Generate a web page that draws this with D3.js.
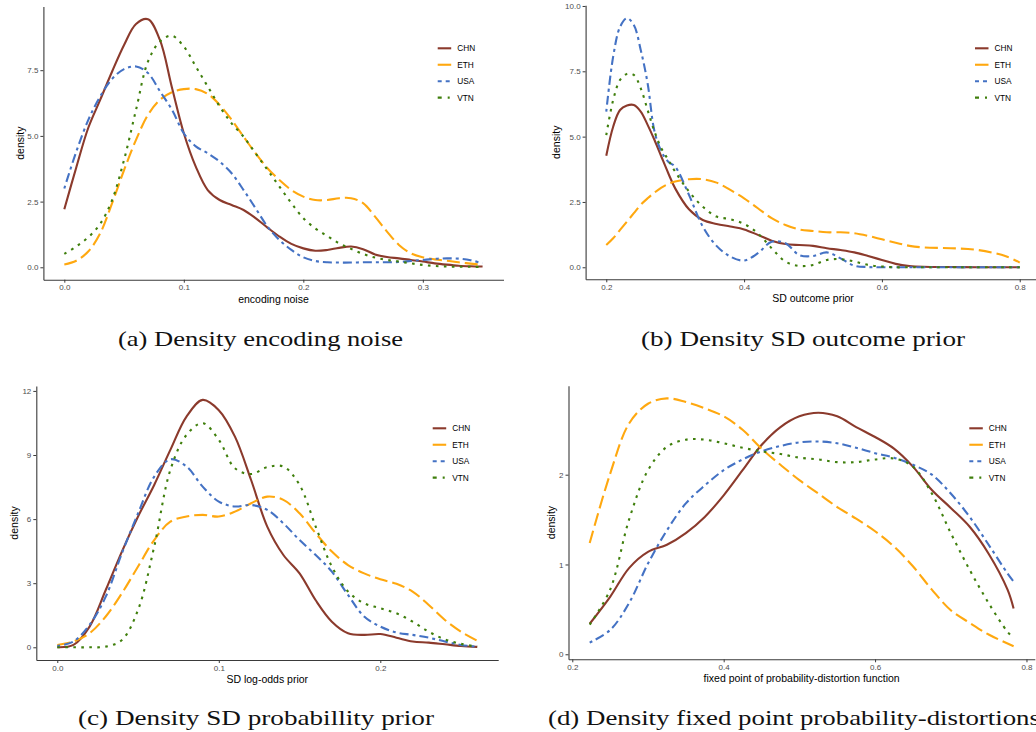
<!DOCTYPE html>
<html>
<head>
<meta charset="utf-8">
<script src="https://cdn.jsdelivr.net/npm/d3@7"></script>
<style>
  html, body { margin: 0; padding: 0; background: #fff; }
  svg { display: block; }
</style>
</head>
<body>
<svg id="chart" width="1036" height="732"></svg>
<script>
// ---------------- DATA ----------------
const countries = ["CHN", "ETH", "USA", "VTN"];

// (a) encoding noise
const xA = [0,0.01,0.02,0.03,0.04,0.05,0.06,0.07,0.08,0.09,0.10,0.11,0.12,0.13,0.14,0.15,0.16,0.17,0.18,0.19,0.20,0.21,0.22,0.23,0.24,0.25,0.26,0.27,0.28,0.29,0.30,0.31,0.32,0.33,0.34,0.35];
const chnA = [2.21,3.8,5.3,6.37,7.45,8.46,9.26,9.44,8.65,6.85,5.1,3.83,2.94,2.56,2.37,2.18,1.87,1.51,1.17,0.89,0.72,0.63,0.66,0.74,0.79,0.69,0.49,0.39,0.34,0.28,0.22,0.15,0.10,0.06,0.04,0.03];
const ethA = [0.11,0.25,0.6,1.29,2.44,3.7,4.85,5.8,6.37,6.66,6.78,6.78,6.6,6.18,5.61,4.97,4.34,3.77,3.32,2.94,2.69,2.56,2.56,2.63,2.63,2.44,1.93,1.36,0.85,0.53,0.38,0.30,0.25,0.19,0.14,0.09];
const usaA = [3.0,4.4,5.6,6.5,7.17,7.54,7.64,7.39,6.7,6.0,5.1,4.6,4.34,4.02,3.58,2.94,2.25,1.55,1.04,0.66,0.38,0.24,0.19,0.18,0.18,0.19,0.19,0.19,0.20,0.24,0.28,0.32,0.34,0.33,0.27,0.15];
const vtnA = [0.51,0.79,1.14,1.65,2.56,4.09,5.99,7.83,8.59,8.81,8.4,7.64,6.88,6.12,5.48,4.97,4.34,3.71,3.07,2.44,1.87,1.48,1.19,0.91,0.70,0.51,0.37,0.28,0.22,0.15,0.09,0.05,0.03,0.02,0.02,0.01];

// (b) SD outcome prior
const xB = [0.20,0.21,0.22,0.23,0.24,0.25,0.26,0.27,0.28,0.29,0.30,0.32,0.34,0.36,0.38,0.40,0.42,0.44,0.46,0.48,0.50,0.52,0.54,0.56,0.58,0.60,0.62,0.64,0.66,0.70,0.74,0.78,0.80];
const chnB = [4.27,5.38,6.02,6.19,6.21,5.96,5.45,4.87,4.23,3.6,3.02,2.22,1.81,1.66,1.56,1.45,1.24,1.02,0.89,0.85,0.82,0.73,0.66,0.57,0.43,0.28,0.13,0.05,0.02,0.01,0,0,0];
const ethB = [0.85,1.11,1.43,1.75,2.07,2.39,2.64,2.86,3.05,3.19,3.28,3.37,3.37,3.24,2.96,2.64,2.26,1.88,1.62,1.45,1.39,1.34,1.34,1.3,1.2,1.07,0.94,0.82,0.76,0.73,0.66,0.42,0.18];
const usaB = [5.96,8.06,9.2,9.53,9.27,8.32,7.04,5.2,4.43,4.04,3.85,2.77,1.56,0.82,0.41,0.26,0.54,0.98,0.92,0.47,0.43,0.57,0.34,0.06,0.01,0,0,0,0,0,0,0,0];
const vtnB = [5.06,6.4,7.17,7.4,7.36,6.85,6.02,5.19,4.55,4.11,3.66,2.9,2.32,1.94,1.84,1.66,1.3,0.73,0.22,0.05,0.09,0.28,0.31,0.22,0.09,0.03,0,0,0,0,0,0,0];

// (c) SD log-odds prior
const xC = [0,0.01,0.02,0.03,0.04,0.05,0.06,0.07,0.08,0.09,0.10,0.11,0.12,0.13,0.14,0.15,0.16,0.17,0.18,0.19,0.20,0.21,0.22,0.23,0.24,0.25,0.26];
const chnC = [0,0.11,0.97,2.68,4.48,6.12,7.6,9.24,10.8,11.58,11.1,9.86,7.83,5.65,4.32,3.46,2.2,1.2,0.66,0.58,0.62,0.45,0.27,0.22,0.14,0.06,0.02];
const ethC = [0.11,0.27,0.66,1.44,2.53,3.78,5.02,5.88,6.12,6.2,6.12,6.35,6.74,7.05,6.9,6.27,5.34,4.48,3.85,3.46,3.18,2.97,2.61,1.98,1.28,0.73,0.31];
const usaC = [0.06,0.27,1.05,2.37,4.4,6.27,7.99,8.8,8.46,7.52,6.82,6.59,6.66,6.43,5.8,5.02,4.32,3.54,2.45,1.44,0.97,0.69,0.58,0.45,0.27,0.11,0.03];
const vtnC = [0,0,0,0.03,0.34,1.75,4.71,8.3,9.94,10.49,9.71,8.38,8.11,8.43,8.46,7.6,5.65,3.78,2.61,2.06,1.83,1.59,1.2,0.73,0.37,0.16,0.03];

// (d) fixed point of probability-distortion function
const xD = [0.223,0.25,0.275,0.30,0.325,0.35,0.375,0.40,0.425,0.45,0.475,0.50,0.525,0.55,0.575,0.60,0.625,0.65,0.675,0.70,0.725,0.75,0.775,0.783];
const chnD = [0.34,0.64,0.96,1.14,1.22,1.35,1.53,1.77,2.05,2.33,2.53,2.65,2.69,2.65,2.53,2.42,2.29,2.09,1.83,1.63,1.42,1.12,0.72,0.51];
const ethD = [1.24,2.01,2.57,2.79,2.85,2.81,2.74,2.65,2.5,2.29,2.11,1.94,1.79,1.64,1.51,1.37,1.2,0.98,0.72,0.49,0.35,0.22,0.12,0.09];
const usaD = [0.13,0.27,0.57,1.01,1.38,1.68,1.88,2.05,2.17,2.26,2.32,2.36,2.37,2.35,2.3,2.24,2.19,2.11,2.0,1.79,1.53,1.22,0.9,0.81];
const vtnD = [0.33,0.72,1.5,2.05,2.31,2.39,2.39,2.35,2.3,2.26,2.23,2.19,2.17,2.14,2.14,2.17,2.18,2.09,1.79,1.35,0.94,0.57,0.25,0.18];

// tick values
const xTicksA = [0, 0.1, 0.2, 0.3];
const yTicksA = [0, 2.5, 5, 7.5];
const xTicksB = [0.2, 0.4, 0.6, 0.8];
const yTicksB = [0, 2.5, 5, 7.5, 10];
const xTicksC = [0, 0.1, 0.2];
const yTicksC = [0, 3, 6, 9, 12];
const xTicksD = [0.2, 0.4, 0.6, 0.8];
const yTicksD = [0, 1, 2];

const xTitles = ["encoding noise", "SD outcome prior", "SD log-odds prior", "fixed point of probability-distortion function"];
const captions = ["(a) Density encoding noise", "(b) Density SD outcome prior", "(c) Density SD probabillity prior", "(d) Density fixed point probability-distortions"];

// ---------------- STYLE ----------------
const colors = ["#8B3A2C", "#FFA80F", "#4472C4", "#3F7F0C"];
const dashes = [null, "13,5", "3,4,9,4", "2.6,5.4"];

// ---------------- DRAW ----------------
const svg = d3.select("#chart");
const sansFont = "'Liberation Sans', Arial, Helvetica, sans-serif";

const panels = [
  { xs: xA, series: [chnA, ethA, usaA, vtnA], xDom: [-0.0175, 0.3675], xRange: [43.4, 503.5], yDom: [-0.472, 9.92], yRange: [279.7, 6.6],
    xTicks: xTicksA, yTicks: yTicksA, xFmt: d3.format(".1f"), yFmt: d3.format(".1f"), title: xTitles[0],
    legend: { x: 437.7, y: 48.3 }, yTitleX: 20 },
  { xs: xB, series: [chnB, ethB, usaB, vtnB], xDom: [0.17, 0.83], xRange: [585.6, 1040.4], yDom: [-0.46, 10.03], yRange: [279.3, 5.2],
    xTicks: xTicksB, yTicks: yTicksB, xFmt: d3.format(".1f"), yFmt: d3.format(".1f"), title: xTitles[1],
    legend: { x: 975, y: 48.3 }, yTitleX: 556.7 },
  { xs: xC, series: [chnC, ethC, usaC, vtnC], xDom: [-0.013, 0.273], xRange: [36.3, 498.2], yDom: [-0.595, 12.23], yRange: [660, 386],
    xTicks: xTicksC, yTicks: yTicksC, xFmt: d3.format(".1f"), yFmt: d3.format("d"), title: xTitles[2],
    legend: { x: 432.7, y: 428.3 }, yTitleX: 14.3 },
  { xs: xD, series: [chnD, ethD, usaD, vtnD], xDom: [0.195, 0.811], xRange: [568.5, 1034.8], yDom: [-0.056, 2.99], yRange: [659.3, 385.8],
    xTicks: xTicksD, yTicks: yTicksD, xFmt: d3.format(".1f"), yFmt: d3.format("d"), title: xTitles[3],
    legend: { x: 969.3, y: 428.3 }, yTitleX: 551.7 }
];

panels.forEach((p) => {
  const g = svg.append("g");
  const x = d3.scaleLinear().domain(p.xDom).range(p.xRange);
  const y = d3.scaleLinear().domain(p.yDom).range(p.yRange);
  const bottom = p.yRange[0], top = p.yRange[1];
  const left = p.xRange[0], right = p.xRange[1];

  // curves
  const line = d3.line().x(d => x(d[0])).y(d => y(d[1])).curve(d3.curveCatmullRom.alpha(0.5));
  p.series.forEach((vals, i) => {
    const pts = p.xs.map((xv, j) => [xv, vals[j]]);
    g.append("path")
      .attr("d", line(pts))
      .attr("fill", "none")
      .attr("stroke", colors[i])
      .attr("stroke-width", 2.1)
      .attr("stroke-dasharray", dashes[i])
      .attr("stroke-linecap", "butt");
  });

  // x axis
  const xAxis = d3.axisBottom(x).tickValues(p.xTicks).tickFormat(p.xFmt).tickSize(3).tickSizeOuter(0).tickPadding(2);
  const gx = g.append("g").attr("transform", `translate(0,${bottom})`).call(xAxis);
  gx.select(".domain").attr("stroke", "#3a3a3a").attr("stroke-width", 1.1);
  gx.selectAll(".tick line").attr("stroke", "#3a3a3a");
  gx.selectAll(".tick text").attr("fill", "#4d4d4d").style("font-family", sansFont).style("font-size", "8px");

  // y axis
  const yAxis = d3.axisLeft(y).tickValues(p.yTicks).tickFormat(p.yFmt).tickSize(3).tickSizeOuter(0).tickPadding(2);
  const gy = g.append("g").attr("transform", `translate(${left},0)`).call(yAxis);
  gy.select(".domain").attr("stroke", "#3a3a3a").attr("stroke-width", 1.1);
  gy.selectAll(".tick line").attr("stroke", "#3a3a3a");
  gy.selectAll(".tick text").attr("fill", "#4d4d4d").style("font-family", sansFont).style("font-size", "8px");

  // axis titles
  g.append("text")
    .attr("x", (left + right) / 2).attr("y", bottom + 23)
    .attr("text-anchor", "middle")
    .style("font-family", sansFont).style("font-size", "10.5px").attr("fill", "#000")
    .text(p.title);
  g.append("text")
    .attr("transform", `translate(${p.yTitleX + 3.5},${(top + bottom) / 2}) rotate(-90)`)
    .attr("text-anchor", "middle")
    .style("font-family", sansFont).style("font-size", "10.5px").attr("fill", "#000")
    .text("density");

  // legend
  const lg = g.append("g").attr("transform", `translate(${p.legend.x},${p.legend.y})`);
  countries.forEach((c, i) => {
    const row = lg.append("g").attr("transform", `translate(0,${i * 16.45})`);
    row.append("line").attr("x1", 0).attr("x2", 13.5).attr("y1", 0).attr("y2", 0)
      .attr("stroke", colors[i]).attr("stroke-width", 2.1)
      .attr("stroke-dasharray", i === 1 ? null : (i === 2 ? "4,4" : (i === 3 ? "4,6,2,6" : null)));
    row.append("text").attr("x", 19.5).attr("y", 0).attr("dy", "0.35em")
      .style("font-family", sansFont).style("font-size", "8.3px").attr("fill", "#000")
      .text(c);
  });
});

// captions
const capFont = "'Liberation Serif', 'DejaVu Serif', 'Times New Roman', serif";
const capPos = [
  { x: 118, y: 346, w: 285 },
  { x: 641, y: 346, w: 324 },
  { x: 78, y: 725, w: 356 },
  { x: 548, y: 725, w: 492 }
];
captions.forEach((t, i) => {
  svg.append("text")
    .attr("x", capPos[i].x).attr("y", capPos[i].y)
    .style("font-family", capFont).style("font-size", "22px").attr("fill", "#111")
    .attr("textLength", capPos[i].w).attr("lengthAdjust", "spacingAndGlyphs")
    .text(t);
});
</script>
</body>
</html>
